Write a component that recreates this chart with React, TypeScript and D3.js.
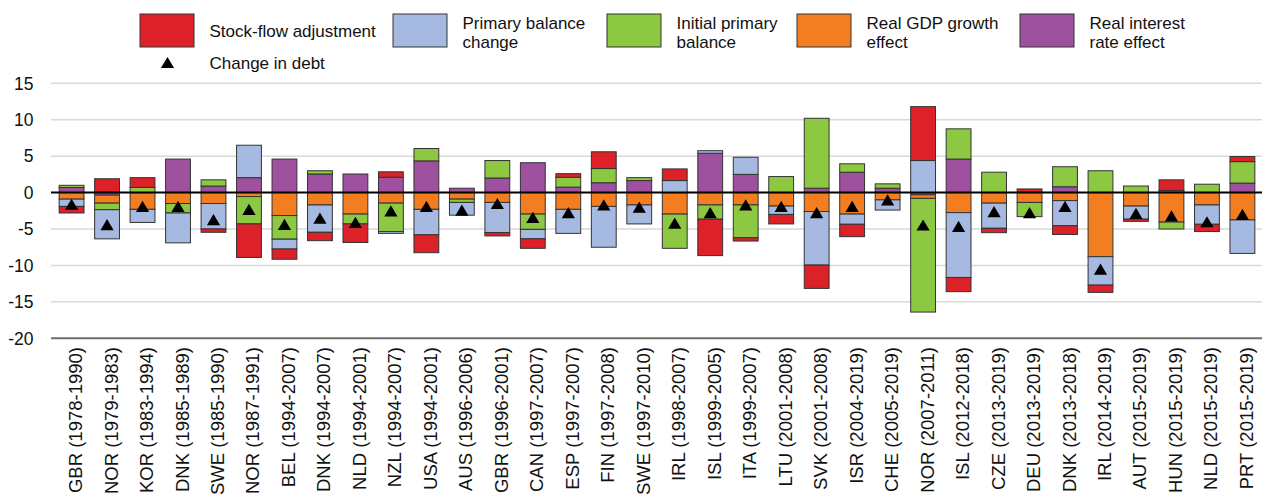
import React from "react";
import * as d3 from "d3";

const categories = [
  "GBR (1978-1990)", "NOR (1979-1983)", "KOR (1983-1994)", "DNK (1985-1989)", "SWE (1985-1990)",
  "NOR (1987-1991)", "BEL (1994-2007)", "DNK (1994-2007)", "NLD (1994-2001)", "NZL (1994-2007)",
  "USA (1994-2001)", "AUS (1996-2006)", "GBR (1996-2001)", "CAN (1997-2007)", "ESP (1997-2007)",
  "FIN (1997-2008)", "SWE (1997-2010)", "IRL (1998-2007)", "ISL (1999-2005)", "ITA (1999-2007)",
  "LTU (2001-2008)", "SVK (2001-2008)", "ISR (2004-2019)", "CHE (2005-2019)", "NOR (2007-2011)",
  "ISL (2012-2018)", "CZE (2013-2019)", "DEU (2013-2019)", "DNK (2013-2018)", "IRL (2014-2019)",
  "AUT (2015-2019)", "HUN (2015-2019)", "NLD (2015-2019)", "PRT (2015-2019)",
];

const stockFlow = [-0.9, 1.9, 1.35, 0, -0.45, -4.6, -1.4, -1.15, -2.55, 0.75, -2.45, 0, -0.45, -1.3, 0.5, 2.3, 0, 1.6, -5.0, -0.45, -1.3, -3.2, -1.7, 0, 7.4, -1.95, -0.6, 0.5, -1.2, -1.0, -0.3, 1.45, -1.0, 0.7];
const primaryChange = [-1.0, -4.0, -1.8, -4.1, -3.5, 4.45, -1.35, -3.75, 0, -0.25, -3.5, -1.75, -4.15, -1.3, -3.3, -5.6, -2.6, 1.65, 0.35, 2.35, -1.15, -7.35, -1.4, -1.4, 4.4, -8.9, -3.45, 0, -3.45, -3.9, -1.8, 0, -2.65, -4.6];
const initialPrimary = [0.3, -0.9, 0.7, -1.3, 0.85, -3.75, -3.25, 0.45, -1.35, -3.9, 1.7, -0.45, 2.4, -2.1, 1.35, 1.95, 0.4, -4.7, -1.95, -4.5, 2.2, 9.6, 1.15, 0.6, -15.6, 4.15, 2.8, -1.95, 2.75, 3.0, 0.9, -0.95, 1.15, 2.95];
const gdpEffect = [-0.9, -1.1, -2.3, -1.5, -1.5, -0.55, -3.15, -1.7, -2.95, -1.45, -2.3, -0.9, -1.35, -2.95, -2.3, -1.9, -1.7, -2.95, -1.7, -1.7, -1.85, -2.6, -2.95, -1.0, -0.5, -2.75, -1.45, -1.35, -1.1, -8.8, -1.85, -4.05, -1.7, -3.75];
const interestEffect = [0.7, -0.35, 0, 4.6, 0.9, 2.05, 4.6, 2.55, 2.55, 2.1, 4.35, 0.6, 2.0, 4.1, 0.75, 1.35, 1.65, 0, 5.4, 2.5, 0, 0.6, 2.8, 0.6, -0.3, 4.6, 0, 0, 0.8, 0, 0, 0.3, 0, 1.3];
const debtChange = [-1.6, -4.4, -1.9, -1.9, -3.7, -2.3, -4.35, -3.5, -4.1, -2.5, -1.9, -2.4, -1.5, -3.4, -2.75, -1.7, -2.0, -4.2, -2.75, -1.7, -1.9, -2.75, -1.9, -1.0, -4.45, -4.65, -2.6, -2.75, -1.9, -10.5, -2.85, -3.2, -4.0, -3.0];

const yTicks = [15, 10, 5, 0, -5, -10, -15, -20];

const seriesKeys = ["interest", "gdp", "initial", "primary", "stock"];
const seriesColors: Record<string, string> = {
  stock: "#DC2228",
  primary: "#A6B9E1",
  initial: "#8CC841",
  gdp: "#F37E21",
  interest: "#9E519F",
};

const legendItems = [
  { key: "stock", lines: ["Stock-flow adjustment"], x: 140 },
  { key: "primary", lines: ["Primary balance", "change"], x: 393 },
  { key: "initial", lines: ["Initial primary", "balance"], x: 607 },
  { key: "gdp", lines: ["Real GDP growth", "effect"], x: 797 },
  { key: "interest", lines: ["Real interest", "rate effect"], x: 1020 },
];

const FONT = "'Liberation Sans', Arial, Helvetica, sans-serif";

export default function App() {
  const width = 1262;
  const height = 501;
  const plotLeft = 51;

  const rows = categories.map((c, i) => ({
    cat: c,
    stock: stockFlow[i],
    primary: primaryChange[i],
    initial: initialPrimary[i],
    gdp: gdpEffect[i],
    interest: interestEffect[i],
  }));

  const x = d3
    .scaleBand<string>()
    .domain(categories)
    .range([plotLeft, 1263])
    .paddingInner(0.3)
    .paddingOuter(0.23);

  const y = d3.scaleLinear().domain([-20, 15]).range([338.3, 83.3]);

  const stacked = d3
    .stack<any>()
    .keys(seriesKeys)
    .offset(d3.stackOffsetDiverging)(rows);

  const bw = x.bandwidth();
  const tri = (cx: number, cy: number) =>
    `M${cx},${cy - 5.6}L${cx + 6.6},${cy + 5.6}L${cx - 6.6},${cy + 5.6}Z`;

  return (
    <svg
      width={width}
      height={height}
      style={{ position: "absolute", left: 0, top: 0, background: "#fff" }}
      fontFamily={FONT}
    >
      {/* gridlines */}
      {yTicks
        .filter((t) => t !== 0 && t !== -20)
        .map((t) => (
          <line key={t} x1={plotLeft} x2={width} y1={y(t)} y2={y(t)} stroke="#d9d9d9" strokeWidth={1.5} />
        ))}
      <line x1={plotLeft} x2={width} y1={y(-20)} y2={y(-20)} stroke="#6e6e6e" strokeWidth={2} />

      {/* y tick labels */}
      {yTicks.map((t) => (
        <text key={t} x={33.5} y={y(t)} dy="0.36em" textAnchor="end" fontSize={17.5} fill="#111">
          {t}
        </text>
      ))}

      {/* bars */}
      {stacked.map((s) => (
        <g key={s.key} fill={seriesColors[s.key]}>
          {s.map((d, i) => {
            const h = Math.abs(y(d[0]) - y(d[1]));
            if (h < 0.01) return null;
            return (
              <rect
                key={i}
                x={x(categories[i])}
                y={Math.min(y(d[0]), y(d[1]))}
                width={bw}
                height={h}
                stroke="#333"
                strokeWidth={1}
              />
            );
          })}
        </g>
      ))}

      {/* zero line */}
      <line x1={plotLeft} x2={width} y1={y(0)} y2={y(0)} stroke="#000" strokeWidth={2} />

      {/* change in debt markers */}
      {debtChange.map((v, i) => (
        <path key={i} d={tri((x(categories[i]) as number) + bw / 2, y(v))} fill="#000" />
      ))}

      {/* x labels */}
      {categories.map((c) => {
        const cx = (x(c) as number) + bw / 2 + 4;
        return (
          <text
            key={c}
            transform={`translate(${cx},347) rotate(-90)`}
            textAnchor="end"
            dy="0.35em"
            fontSize={18.5}
            fill="#111"
          >
            {c}
          </text>
        );
      })}

      {/* legend */}
      {legendItems.map((it) => (
        <g key={it.key}>
          <rect x={it.x} y={14} width={54} height={33} fill={seriesColors[it.key]} stroke="#333" strokeWidth={1} />
          {it.lines.length === 1 ? (
            <text x={it.x + 69.5} y={31.5} dy="0.35em" fontSize={17} fill="#111">
              {it.lines[0]}
            </text>
          ) : (
            it.lines.map((l, j) => (
              <text key={j} x={it.x + 69.5} y={22.7 + j * 19} dy="0.35em" fontSize={17} fill="#111">
                {l}
              </text>
            ))
          )}
        </g>
      ))}
      <path d={tri(167.5, 62.5)} fill="#000" />
      <text x={209.5} y={63} dy="0.35em" fontSize={17} fill="#111">
        Change in debt
      </text>
    </svg>
  );
}
